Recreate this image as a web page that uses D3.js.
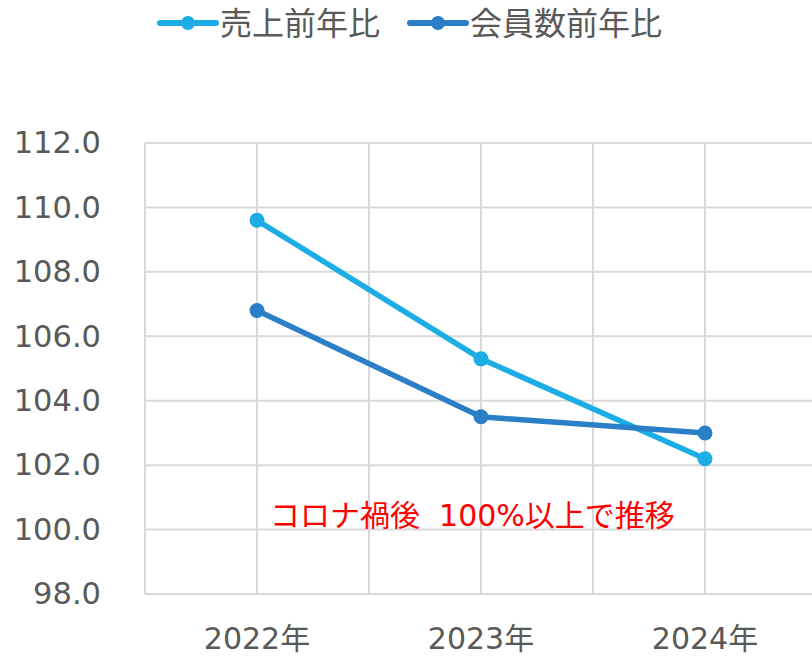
<!DOCTYPE html>
<html>
<head>
<meta charset="utf-8">
<script src="https://cdn.jsdelivr.net/npm/d3@7"></script>
<style>
  body { margin:0; background:#fff; }
  svg text { font-family: "DejaVu Sans", "Noto Sans CJK JP", sans-serif; }
</style>
</head>
<body>
<svg id="chart" width="812" height="658"></svg>
<script>
// data
const years = ['2022年', '2023年', '2024年']
const salesYoY = [109.6, 105.3, 102.2]
const memberYoY = [106.8, 103.5, 103.0]
const yTicks = [98, 100, 102, 104, 106, 108, 110, 112]
const seriesNames = ['売上前年比', '会員数前年比']
const seriesColors = ['#1cade4', '#2a7fc6']
const note = 'コロナ禍後\u00a0\u00a0100%以上で推移'

let svg = d3.select('#chart')

let x = d3.scaleBand().domain(years).range([145, 817])
let y = d3.scaleLinear().domain([98, 112]).range([594, 143])

let grid = svg.append('g').attr('class','grid')
// horizontal grid
grid.selectAll('line.h')
	.data(yTicks)
	.join('line')
	.attr('x1', 145).attr('x2', 817)
	.attr('y1', d => y(d)).attr('y2', d => y(d))
	.attr('stroke', '#d9d9d9').attr('stroke-width', 2)

// vertical grid : category edges + centers
let vx = []
years.forEach((c)=>{
	vx.push(x(c))
	vx.push(x(c) + x.bandwidth()/2)
})
grid.selectAll('line.v')
	.data(vx)
	.join('line')
	.attr('x1', d => d).attr('x2', d => d)
	.attr('y1', 143).attr('y2', 594)
	.attr('stroke', '#d9d9d9').attr('stroke-width', 2)

// y axis labels
svg.append('g')
	.attr('transform', 'translate(101,0)')
	.call(d3.axisLeft(y).tickValues(yTicks).tickFormat(d3.format('.1f')).tickSize(0).tickPadding(0))
	.call(g => g.select('.domain').remove())
	.call(g => g.selectAll('text')
		.attr('fill', '#595959')
		.style('font-size', '30.5px'))

// x axis labels (reference crops them at the bottom edge; keep them just inside)
svg.append('g')
	.attr('transform', 'translate(0,620)')
	.call(d3.axisBottom(x).tickSize(0).tickPadding(0))
	.call(g => g.select('.domain').remove())
	.call(g => g.selectAll('text')
		.attr('fill', '#595959')
		.attr('dy', '0.95em')
		.style('font-size', '30px'))

// series
let cx = d => x(d) + x.bandwidth()/2
let line = d3.line().x(d => cx(d.c)).y(d => y(d.v))
let series = [salesYoY, memberYoY].map((vals,i)=>{
	return { name: seriesNames[i], color: seriesColors[i], pts: vals.map((v,j)=>({ c: years[j], v })) }
})

series.forEach((s)=>{
	let g = svg.append('g')
	g.append('path')
		.attr('d', line(s.pts))
		.attr('fill', 'none')
		.attr('stroke', s.color)
		.attr('stroke-width', 5.5)
		.attr('stroke-linejoin', 'round')
	g.selectAll('circle')
		.data(s.pts)
		.join('circle')
		.attr('cx', d => cx(d.c))
		.attr('cy', d => y(d.v))
		.attr('r', 7.5)
		.attr('fill', s.color)
})

// annotation
svg.append('text')
	.attr('x', 270).attr('y', 526)
	.attr('fill', '#ff0000')
	.style('font-size', '30px')
	.text(note)

// legend
let legendX = [160, 410]
series.forEach((s,i)=>{
	let g = svg.append('g').attr('transform', 'translate(' + legendX[i] + ',23)')
	g.append('line')
		.attr('x1', 0).attr('x2', 56)
		.attr('stroke', s.color).attr('stroke-width', 6)
		.attr('stroke-linecap', 'round')
	g.append('circle').attr('cx', 28).attr('r', 7).attr('fill', s.color)
	g.append('text')
		.attr('x', 60).attr('dy', '0.36em')
		.attr('fill', '#595959')
		.style('font-size', '32px')
		.text(s.name)
})
</script>
</body>
</html>
